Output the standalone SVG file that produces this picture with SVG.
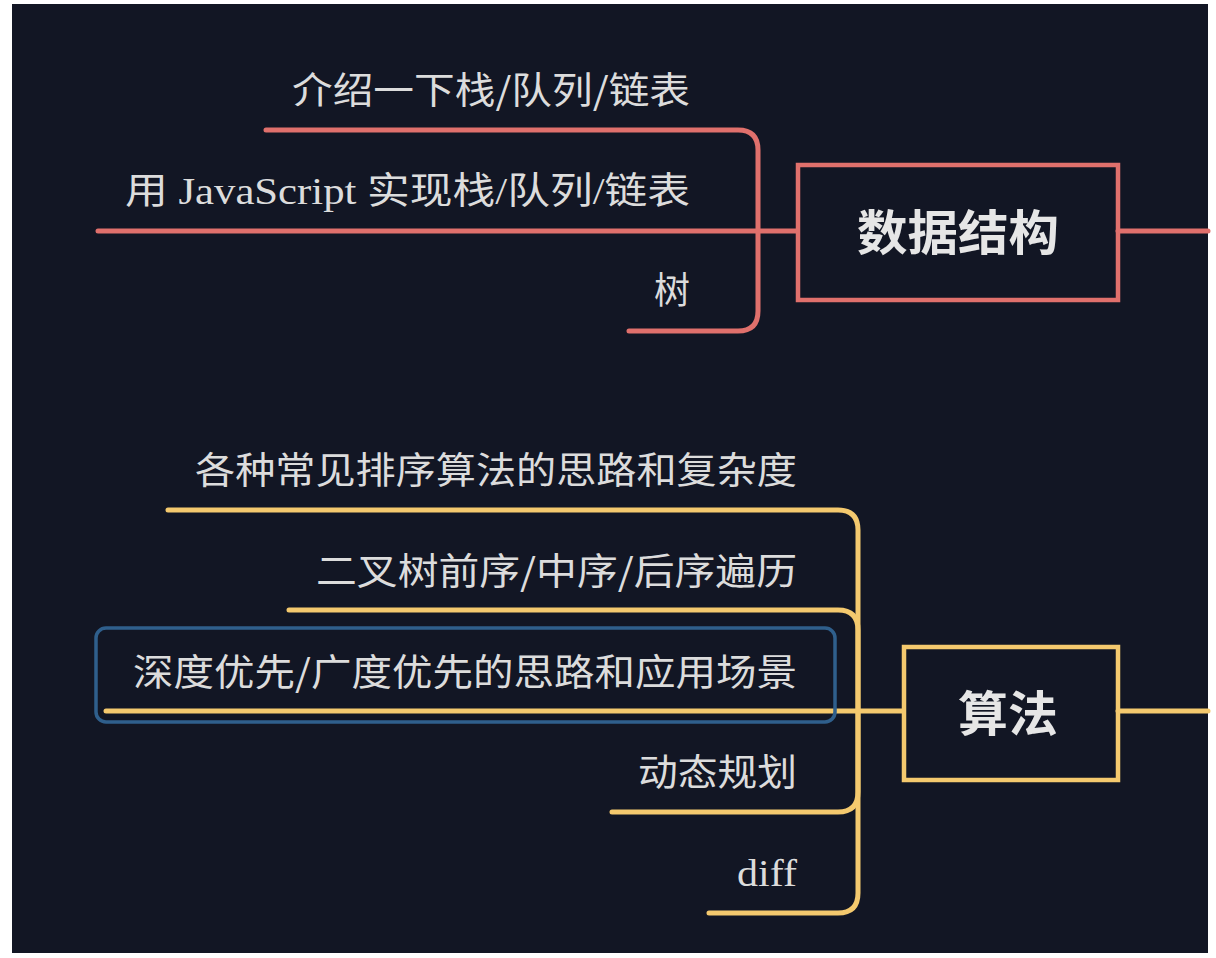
<svg xmlns="http://www.w3.org/2000/svg" width="1216" height="958" viewBox="0 0 1216 958">
<style>
.lbl{font-family:"Liberation Serif","Noto Sans CJK SC",serif;font-size:37px;fill:#dcdcdc;text-anchor:end}
.cjk{font-family:"Noto Sans CJK SC",sans-serif}
.title{font-family:"Noto Sans CJK SC",sans-serif;font-size:48px;font-weight:bold;fill:#e6e6e6;text-anchor:middle}
.red{stroke:#e0706c;stroke-width:5;fill:none;stroke-linecap:round}
.yel{stroke:#f4c96e;stroke-width:5;fill:none;stroke-linecap:round}
</style>
<rect x="0" y="0" width="1216" height="958" fill="#ffffff"/>
<rect x="12" y="4" width="1196" height="949" fill="#121624"/>
<g id="connectors">
<path class="red" d="M758 231 V150 Q758 130 738 130 H266"/>
<path class="red" d="M797 231 H98"/>
<path class="red" d="M758 231 V311 Q758 331 738 331 H629"/>
<path class="red" d="M1118 231 H1208" stroke-linecap="butt"/>
<path class="yel" d="M858 711 V530 Q858 510 838 510 H168"/>
<path class="yel" d="M858 711 V630 Q858 610 838 610 H289"/>
<path class="yel" d="M903 711 H106"/>
<path class="yel" d="M858 711 V792 Q858 812 838 812 H612"/>
<path class="yel" d="M858 711 V893 Q858 913 838 913 H709"/>
<path class="yel" d="M1118 711 H1208" stroke-linecap="butt"/>
</g>
<g id="n-ds">
<rect x="798" y="165" width="320" height="135" fill="none" stroke="#e0706c" stroke-width="4.5"/>
<text class="title" x="958" y="250" textLength="202" lengthAdjust="spacingAndGlyphs">数据结构</text>
</g>
<g id="n-ds1"><text class="lbl cjk" x="690" y="104" textLength="398" lengthAdjust="spacingAndGlyphs">介绍一下栈/队列/链表</text></g>
<g id="n-ds2"><text class="lbl" x="690" y="204" textLength="565" lengthAdjust="spacingAndGlyphs">用 JavaScript 实现栈/队列/链表</text></g>
<g id="n-ds3"><text class="lbl cjk" x="690" y="304" textLength="36" lengthAdjust="spacingAndGlyphs">树</text></g>
<g id="n-algo">
<rect x="904" y="647" width="214" height="133" fill="none" stroke="#f4c96e" stroke-width="4.5"/>
<text class="title" x="1008" y="731" textLength="100" lengthAdjust="spacingAndGlyphs">算法</text>
</g>
<g id="n-a1"><text class="lbl cjk" x="797" y="484" textLength="602" lengthAdjust="spacingAndGlyphs">各种常见排序算法的思路和复杂度</text></g>
<g id="n-a2"><text class="lbl cjk" x="797" y="585" textLength="481" lengthAdjust="spacingAndGlyphs">二叉树前序/中序/后序遍历</text></g>
<g id="n-a3">
<rect x="96" y="628" width="739" height="94" rx="10" fill="none" stroke="#2f5f8c" stroke-width="3.5"/>
<text class="lbl cjk" x="797" y="686" textLength="664" lengthAdjust="spacingAndGlyphs">深度优先/广度优先的思路和应用场景</text>
</g>
<g id="n-a4"><text class="lbl cjk" x="797" y="786" textLength="159" lengthAdjust="spacingAndGlyphs">动态规划</text></g>
<g id="n-a5"><text class="lbl" x="797" y="886" textLength="60" lengthAdjust="spacingAndGlyphs">diff</text></g>
</svg>
